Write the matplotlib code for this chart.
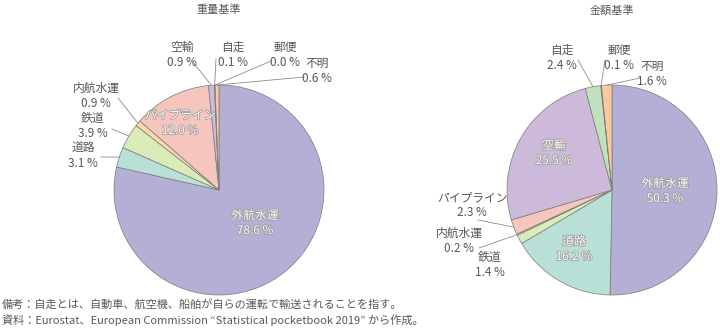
import numpy as np
import matplotlib
matplotlib.use('Agg')
import matplotlib.pyplot as plt
import matplotlib.patheffects as pe

plt.rcParams['font.family'] = ['Noto Sans CJK JP', 'DejaVu Sans']

# ---- data ----
modes = ['外航水運', '道路', '鉄道', '内航水運', 'パイプライン', '空輸', '自走', '郵便', '不明']
weight_share = [78.6, 3.1, 3.9, 0.9, 12.0, 0.9, 0.1, 0.0, 0.6]
value_share = [50.3, 16.2, 1.4, 0.2, 2.3, 25.5, 2.4, 0.1, 1.6]
colors = ['#b3afd5', '#b8e0d6', '#d9ebb8', '#fdd8a8', '#f6c5bd',
          '#cdb9d9', '#bfe1bc', '#d0d0d0', '#fcc8a0']

txt = '#595757'
W, H = 720, 328
fig = plt.figure(figsize=(W / 100, H / 100), dpi=100)
ax = fig.add_axes([0, 0, 1, 1])
ax.set_xlim(0, W)
ax.set_ylim(0, H)
ax.set_aspect('equal')
ax.axis('off')

R = 105
FS = 8.5


def draw_pie(vals, cx, cy, title, inside, outside):
    ax.pie(vals, colors=colors, startangle=90, counterclock=False,
           center=(cx, cy), radius=R, frame=True,
           wedgeprops=dict(edgecolor='#7a7a7a', linewidth=0.5))
    ax.text(cx, H - 10, title, ha='center', va='center', fontsize=8, color=txt)
    vals = np.array(vals, dtype=float)
    cum = np.cumsum(vals) / vals.sum()
    mid = cum - vals / vals.sum() / 2
    for i, m in enumerate(modes):
        s = '%s\n%.1f %%' % (m, vals[i])
        if m in inside:
            x, y = inside[m]
            t = ax.text(x, H - y, s, ha='center', va='center', fontsize=FS,
                        color='white', linespacing=1.2)
            t.set_path_effects([pe.withStroke(linewidth=1.1, foreground='#9a9a9a')])
        elif m in outside:
            (x, y), line0 = outside[m]
            ax.text(x, H - y, s, ha='center', va='center', fontsize=FS,
                    color=txt, linespacing=1.2)
            if line0 is not None:
                th = np.deg2rad(90 - 360 * mid[i])
                ex, ey = cx + R * np.cos(th), cy + R * np.sin(th)
                ax.plot([line0[0], ex], [H - line0[1], ey], color='#8c8c8c', lw=0.6)


draw_pie(weight_share, 219, H - 190, '重量基準',
         inside={'外航水運': (255, 223), 'パイプライン': (180, 123)},
         outside={'空輸': ((182, 55), (192, 61)),
                  '自走': ((233, 55), (216, 59)),
                  '郵便': ((285, 55), (271, 61)),
                  '不明': ((317, 71), (304, 77)),
                  '内航水運': ((96, 96), (118, 98)),
                  '鉄道': ((93, 126), (112, 129)),
                  '道路': ((83, 156), (101, 157))})

draw_pie(value_share, 612, H - 190, '金額基準',
         inside={'外航水運': (665, 191), '道路': (574, 249), '空輸': (554, 153)},
         outside={'自走': ((562, 58), (578, 60)),
                  '郵便': ((619, 58), (605, 60)),
                  '不明': ((652, 74), (640, 78)),
                  'パイプライン': ((472, 205), (478, 220)),
                  '内航水運': ((459, 241), (479, 248)),
                  '鉄道': ((490, 265), None)})

fig.text(2 / W, 1 - 304 / H,
         '備考：自走とは、自動車、航空機、船舶が自らの運転で輸送されることを指す。',
         fontsize=8, color=txt, va='center', ha='left')
fig.text(2 / W, 1 - 320 / H,
         '資料：Eurostat、European Commission “Statistical pocketbook 2019” から作成。',
         fontsize=8, color=txt, va='center', ha='left')

fig.savefig('out.png', dpi=100)
